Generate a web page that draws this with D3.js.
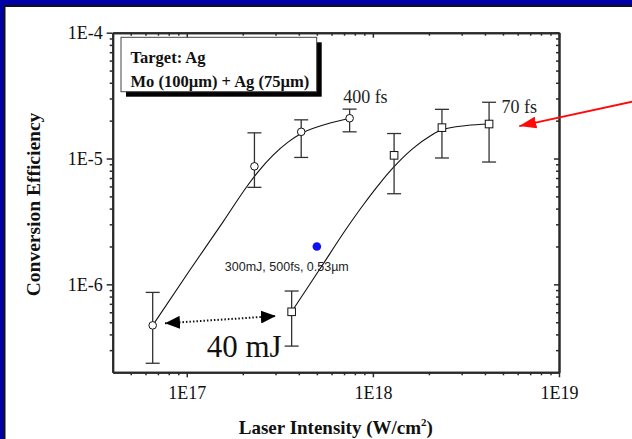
<!DOCTYPE html>
<html>
<head>
<meta charset="utf-8">
<script src="https://cdn.jsdelivr.net/npm/d3@7"></script>
<style>
    body { margin: 0; background: #0000a8; }
    svg { display: block; }
</style>
</head>
<body>
<div class="canvas"></div>
<script>
// 400 fs shots (circles)
const int400 = [6.56e16, 2.31e17, 4.12e17, 7.5e17];
const eff400 = [4.72e-7, 8.67e-6, 1.63e-5, 2.09e-5];
const hi400 = [8.63e-7, 1.6e-5, 2.03e-5, 2.47e-5];
const lo400 = [2.36e-7, 5.9e-6, 1.02e-5, 1.63e-5];

// 70 fs shots (squares)
const int70 = [3.66e17, 1.3e18, 2.35e18, 4.21e18];
const eff70 = [6.05e-7, 1.06e-5, 1.76e-5, 1.88e-5];
const hi70 = [8.85e-7, 1.58e-5, 2.46e-5, 2.8e-5];
const lo70 = [3.23e-7, 5.25e-6, 1.01e-5, 9.38e-6];

// hand-drawn fit curves
const fit400x = [6.56e16, 1.04e17, 1.57e17, 2.1e17, 2.41e17, 2.92e17, 3.5e17, 4.12e17, 5.65e17, 7.5e17];
const fit400y = [4.72e-7, 1.3e-6, 3.15e-6, 5.97e-6, 7.81e-6, 1.07e-5, 1.35e-5, 1.58e-5, 1.88e-5, 2.09e-5];
const fit70x = [3.66e17, 5.2e17, 7.23e17, 8.87e17, 1.09e18, 1.3e18, 1.65e18, 2.03e18, 2.34e18, 3.19e18, 4.21e18];
const fit70y = [6.05e-7, 1.33e-6, 2.79e-6, 4.27e-6, 6.35e-6, 8.61e-6, 1.21e-5, 1.51e-5, 1.69e-5, 1.83e-5, 1.88e-5];

// 0.53um shot (blue dot)
const blueInt = [5.0e17];
const blueEff = [2.0e-6];

// ticks
const xTicks = [1e17, 1e18, 1e19];
const xTickLabels = ["1E17", "1E18", "1E19"];
const yTicks = [1e-6, 1e-5, 1e-4];
const yTickLabels = ["1E-6", "1E-5", "1E-4"];

// annotation arrows, in data units
const energyArrow = [[7.64e16, 4.9e-7], [3.01e17, 5.6e-7]];
const redArrow = [[2.47e19, 2.83e-5], [6.12e18, 1.81e-5]];

const dims = { width: 632, height: 439 };
const plot = { left: 112.7, right: 559, top: 32.7, bottom: 372.3 };
const serif = "'Liberation Serif', 'Times New Roman', serif";
const sans = "'Liberation Sans', Arial, sans-serif";

const svg = d3
    .select(".canvas")
    .append("svg")
    .attr("width", dims.width)
    .attr("height", dims.height);

// slide frame
svg.append("rect").attr("width", dims.width).attr("height", dims.height).attr("fill", "#0000a8");
svg.append("rect").attr("x", 3.5).attr("y", 5).attr("width", dims.width).attr("height", dims.height).attr("fill", "#111");
svg.append("rect").attr("x", 5.5).attr("y", 7).attr("width", dims.width).attr("height", dims.height).attr("fill", "#fff");

const x = d3.scaleLog().domain([4e16, 1e19]).range([plot.left, plot.right]);
const y = d3.scaleLog().domain([2e-7, 1e-4]).range([plot.bottom, plot.top]);

const minorX = x.ticks().filter((d) => !xTicks.includes(d) && d > 4e16);
const minorY = y.ticks().filter((d) => !yTicks.some((t) => Math.abs(t - d) / t < 1e-6) && d > 2e-7);

const axisColor = "#2a2a2a";

// axes
const drawAxis = (axis, transform) => {
    const g = svg.append("g").attr("transform", transform).call(axis);
    g.selectAll("path, line").attr("stroke", axisColor).attr("stroke-width", 1.5);
    return g;
};

const fmtX = (d) => xTickLabels[xTicks.indexOf(d)];
const fmtY = (d) => yTickLabels[yTicks.indexOf(d)];

const xAxis = drawAxis(
    d3.axisBottom(x).tickValues(xTicks).tickSize(5).tickSizeOuter(0).tickFormat(fmtX).tickPadding(6),
    `translate(0,${plot.bottom})`
);
drawAxis(d3.axisBottom(x).tickValues(minorX).tickSize(3).tickSizeOuter(0).tickFormat(""), `translate(0,${plot.bottom})`);
xAxis.selectAll("text").attr("font-family", serif).attr("font-size", 18).attr("fill", "#111").attr("dy", "0.9em");

const yAxis = drawAxis(
    d3.axisLeft(y).tickValues(yTicks).tickSize(6).tickSizeOuter(0).tickFormat(fmtY).tickPadding(4),
    `translate(${plot.left},0)`
);
drawAxis(d3.axisLeft(y).tickValues(minorY).tickSize(3).tickSizeOuter(0).tickFormat(""), `translate(${plot.left},0)`);
yAxis.selectAll("text").attr("font-family", serif).attr("font-size", 18).attr("fill", "#111");

// mirrored axes, ticks inside
drawAxis(d3.axisTop(x).tickValues(xTicks).tickSize(-5).tickSizeOuter(0).tickFormat(""), `translate(0,${plot.top})`);
drawAxis(d3.axisTop(x).tickValues(minorX).tickSize(-3).tickSizeOuter(0).tickFormat(""), `translate(0,${plot.top})`);
drawAxis(d3.axisRight(y).tickValues(yTicks).tickSize(-5).tickSizeOuter(0).tickFormat(""), `translate(${plot.right},0)`);
drawAxis(d3.axisRight(y).tickValues(minorY).tickSize(-3).tickSizeOuter(0).tickFormat(""), `translate(${plot.right},0)`);
svg.selectAll(".domain").attr("stroke-width", 2);

// axis titles
const xTitle = svg
    .append("text")
    .attr("x", (plot.left + plot.right) / 2)
    .attr("y", 434)
    .attr("text-anchor", "middle")
    .attr("font-family", serif)
    .attr("font-weight", "bold")
    .attr("font-size", 19)
    .attr("fill", "#111");
xTitle.append("tspan").text("Laser Intensity (W/cm");
xTitle.append("tspan").attr("font-size", 11).attr("dy", -8).text("2");
xTitle.append("tspan").attr("dy", 8).text(")");

svg.append("text")
    .attr("transform", `translate(40,${(plot.top + plot.bottom) / 2 + 2}) rotate(-90)`)
    .attr("text-anchor", "middle")
    .attr("font-family", serif)
    .attr("font-weight", "bold")
    .attr("font-size", 19.5)
    .attr("fill", "#111")
    .text("Conversion Efficiency");

// legend box with drop shadow
const box = { x: plot.left + 8.3, y: plot.top + 4.6, w: 195.7, h: 54.4 };
svg.append("rect").attr("x", box.x + 5).attr("y", box.y + 5).attr("width", box.w).attr("height", box.h).attr("fill", "#000");
svg.append("rect").attr("x", box.x).attr("y", box.y).attr("width", box.w).attr("height", box.h)
    .attr("fill", "#fff").attr("stroke", "#444").attr("stroke-width", 1);
svg.append("text").attr("x", box.x + 9.5).attr("y", box.y + 26).attr("font-family", serif)
    .attr("font-weight", "bold").attr("font-size", 16.5).attr("fill", "#111").text("Target: Ag");
svg.append("text").attr("x", box.x + 9.5).attr("y", box.y + 49.5).attr("font-family", serif)
    .attr("font-weight", "bold").attr("font-size", 16.5).attr("fill", "#111").text("Mo (100\u00b5m) + Ag (75\u00b5m)");

// fit curves
const line = d3
    .line()
    .x((d) => x(d[0]))
    .y((d) => y(d[1]))
    .curve(d3.curveMonotoneX);

svg.append("path").attr("d", line(d3.zip(fit400x, fit400y))).attr("fill", "none").attr("stroke", "#111").attr("stroke-width", 1.1);
svg.append("path").attr("d", line(d3.zip(fit70x, fit70y))).attr("fill", "none").attr("stroke", "#111").attr("stroke-width", 1.1);

// error bars
const errorBars = (xs, his, los) => {
    const g = svg.append("g").attr("stroke", "#333").attr("stroke-width", 1.3);
    xs.forEach((xv, i) => {
        const cx = x(xv);
        g.append("line").attr("x1", cx).attr("x2", cx).attr("y1", y(his[i])).attr("y2", y(los[i]));
        g.append("line").attr("x1", cx - 7).attr("x2", cx + 7).attr("y1", y(his[i])).attr("y2", y(his[i]));
        g.append("line").attr("x1", cx - 7).attr("x2", cx + 7).attr("y1", y(los[i])).attr("y2", y(los[i]));
    });
};
errorBars(int400, hi400, lo400);
errorBars(int70, hi70, lo70);

// markers
svg.append("g")
    .selectAll("circle")
    .data(d3.zip(int400, eff400))
    .enter()
    .append("circle")
    .attr("cx", (d) => x(d[0]))
    .attr("cy", (d) => y(d[1]))
    .attr("r", 3.8)
    .attr("fill", "#fff")
    .attr("stroke", "#111")
    .attr("stroke-width", 1);

svg.append("g")
    .selectAll("rect")
    .data(d3.zip(int70, eff70))
    .enter()
    .append("rect")
    .attr("x", (d) => x(d[0]) - 3.8)
    .attr("y", (d) => y(d[1]) - 3.8)
    .attr("width", 7.6)
    .attr("height", 7.6)
    .attr("fill", "#fff")
    .attr("stroke", "#111")
    .attr("stroke-width", 1);

svg.append("g")
    .selectAll("circle")
    .data(d3.zip(blueInt, blueEff))
    .enter()
    .append("circle")
    .attr("cx", (d) => x(d[0]))
    .attr("cy", (d) => y(d[1]))
    .attr("r", 4.3)
    .attr("fill", "#1010f0");

// labels
const last400 = [x(int400[3]), y(eff400[3])];
const last70 = [x(int70[3]), y(eff70[3])];
const first70 = [x(int70[0]), y(eff70[0])];
const blueAt = [x(blueInt[0]), y(blueEff[0])];

svg.append("text").attr("x", last400[0] - 6.5).attr("y", last400[1] - 15.5).attr("font-family", serif)
    .attr("font-size", 18).attr("fill", "#222").text("400 fs");
svg.append("text").attr("x", last70[0] + 12.5).attr("y", last70[1] - 11.5).attr("font-family", serif)
    .attr("font-size", 18).attr("fill", "#222").text("70 fs");
svg.append("text").attr("x", first70[0] - 10).attr("y", first70[1] + 45.5).attr("text-anchor", "end")
    .attr("font-family", serif).attr("font-size", 31).attr("fill", "#111").text("40 mJ");
svg.append("text").attr("x", blueAt[0] - 92).attr("y", blueAt[1] + 24.5).attr("font-family", sans)
    .attr("font-size", 12.5).attr("fill", "#222").text("300mJ, 500fs, 0.53\u00b5m");

// arrows
const defs = svg.append("defs");
const head = (id, color, len, wid) =>
    defs.append("marker")
        .attr("id", id)
        .attr("markerUnits", "userSpaceOnUse")
        .attr("viewBox", `0 0 ${len} ${wid}`)
        .attr("refX", len)
        .attr("refY", wid / 2)
        .attr("markerWidth", len)
        .attr("markerHeight", wid)
        .attr("orient", "auto-start-reverse")
        .append("path")
        .attr("d", `M0,0L${len},${wid / 2}L0,${wid}Z`)
        .attr("fill", color);
head("blackHead", "#000", 15, 13);
head("redHead", "#ff0a0a", 17, 12);

const straight = d3.line().x((d) => x(d[0])).y((d) => y(d[1]));

svg.append("path")
    .attr("d", straight(energyArrow))
    .attr("fill", "none")
    .attr("stroke", "#111")
    .attr("stroke-width", 2)
    .attr("stroke-dasharray", "1.5,2")
    .attr("marker-start", "url(#blackHead)")
    .attr("marker-end", "url(#blackHead)");

svg.append("path")
    .attr("d", straight(redArrow))
    .attr("fill", "none")
    .attr("stroke", "#ff0a0a")
    .attr("stroke-width", 2)
    .attr("marker-end", "url(#redHead)");
</script>
</body>
</html>
